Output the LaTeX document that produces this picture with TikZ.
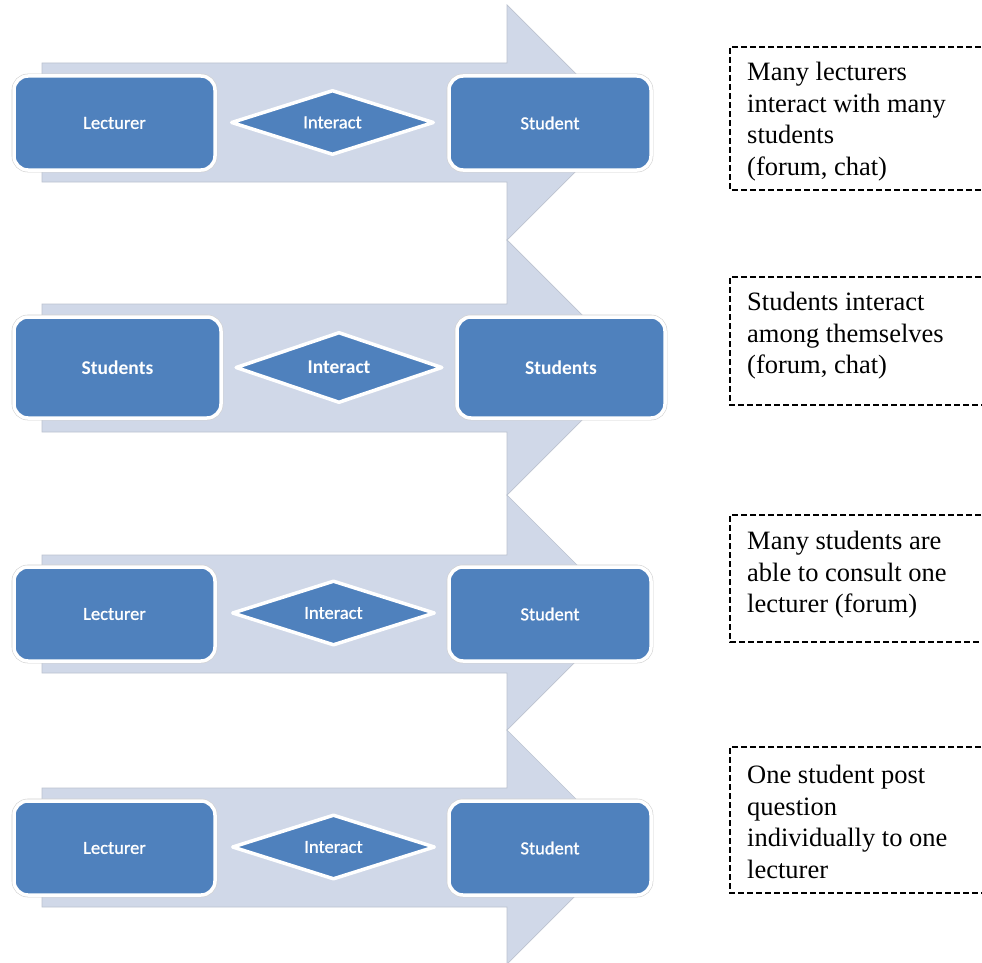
\documentclass[tikz,border=0pt]{standalone}
\usepackage{fontspec}
\setmainfont{Liberation Serif}
\newfontfamily\calfont[FakeBold=0.9]{Carlito}
\newfontfamily\calbold{Carlito Bold}
\usetikzlibrary{shapes.geometric}
\definecolor{boxblue}{HTML}{4F81BD}
\definecolor{arrowfill}{HTML}{D0D8E8}
\definecolor{arrowline}{HTML}{BCC3D0}
\definecolor{halo}{HTML}{D0D0D0}
\begin{document}
\begin{tikzpicture}[x=1pt,y=-1pt,
  bigarrow/.style={fill=arrowfill, draw=arrowline, line width=0.7pt},
  entity/.style={rectangle, rounded corners=14pt, fill=boxblue, draw=white, line width=3.5pt,
    preaction={draw=halo, line width=4.6pt}, inner sep=0pt, text=white,
    font=\calfont\fontsize{18.5}{22}\selectfont},
  relation/.style={diamond, aspect=3, fill=boxblue, draw=white, line width=3.5pt, line join=round,
    inner sep=0pt, text=white, font=\calfont\fontsize{18.5}{22}\selectfont},
  bigrow/.style={font=\calbold\fontsize{19.5}{23}\selectfont},
  note/.style={align=left, anchor=north west, inner sep=0pt, font=\fontsize{26.5}{31.7}\selectfont},
  noteframe/.style={dash pattern=on 6pt off 3pt, line width=1.4pt}
]
\clip (0,0) rectangle (982,963);
\fill[white] (0,0) rectangle (982,963);

% block arrows
\draw[bigarrow] (42,63) -- (507,63) -- (507,5) -- (624.5,122.5) -- (507,240) -- (507,182) -- (42,182) -- cycle;
\draw[bigarrow] (42,304) -- (507,304) -- (507,240) -- (634.5,367.5) -- (507,495) -- (507,432) -- (42,432) -- cycle;
\draw[bigarrow] (42,555) -- (507,555) -- (507,495) -- (624.5,612.5) -- (507,730) -- (507,673) -- (42,673) -- cycle;
\draw[bigarrow] (42,788) -- (507,788) -- (507,730) -- (624,847) -- (507,964) -- (507,907) -- (42,907) -- cycle;

% row 1
\node[entity, minimum width=201pt, minimum height=94pt] (l1) at (114.5,123) {Lecturer};
\node[relation, minimum width=203pt, minimum height=65pt] (d1) at (332.5,122.5) {Interact};
\node[entity, minimum width=202pt, minimum height=94pt] (r1) at (550,123) {Student};

% row 2
\node[entity, bigrow, minimum width=207pt, minimum height=101pt] (l2) at (117.5,367.5) {Students};
\node[relation, bigrow, minimum width=207pt, minimum height=71pt] (d2) at (339,367.5) {Interact};
\node[entity, bigrow, minimum width=208pt, minimum height=101pt] (r2) at (561,367.5) {Students};

% row 3
\node[entity, minimum width=201pt, minimum height=94pt] (l3) at (114.5,614) {Lecturer};
\node[relation, minimum width=203pt, minimum height=65pt] (d3) at (333.5,613) {Interact};
\node[entity, minimum width=202pt, minimum height=94pt] (r3) at (550,614) {Student};

% row 4
\node[entity, minimum width=201pt, minimum height=94pt] (l4) at (114.5,848) {Lecturer};
\node[relation, minimum width=203pt, minimum height=65pt] (d4) at (333.5,847) {Interact};
\node[entity, minimum width=202pt, minimum height=94pt] (r4) at (550,848) {Student};

% notes
\draw[noteframe] (990,47) -- (730,47) -- (730,190) -- (990,190);
\node[note] (n1) at (747,62) {Many lecturers\\interact with many\\students\\(forum, chat)};

\draw[noteframe] (990,277) -- (730,277) -- (730,405) -- (990,405);
\node[note] (n2) at (747,292) {Students interact\\among themselves\\(forum, chat)};

\draw[noteframe] (990,515) -- (730,515) -- (730,642) -- (990,642);
\node[note] (n3) at (747,531) {Many students are\\able to consult one\\lecturer (forum)};

\draw[noteframe] (990,747) -- (730,747) -- (730,893) -- (990,893);
\node[note] (n4) at (747,765) {One student post\\question\\individually to one\\lecturer};
\end{tikzpicture}
\end{document}
